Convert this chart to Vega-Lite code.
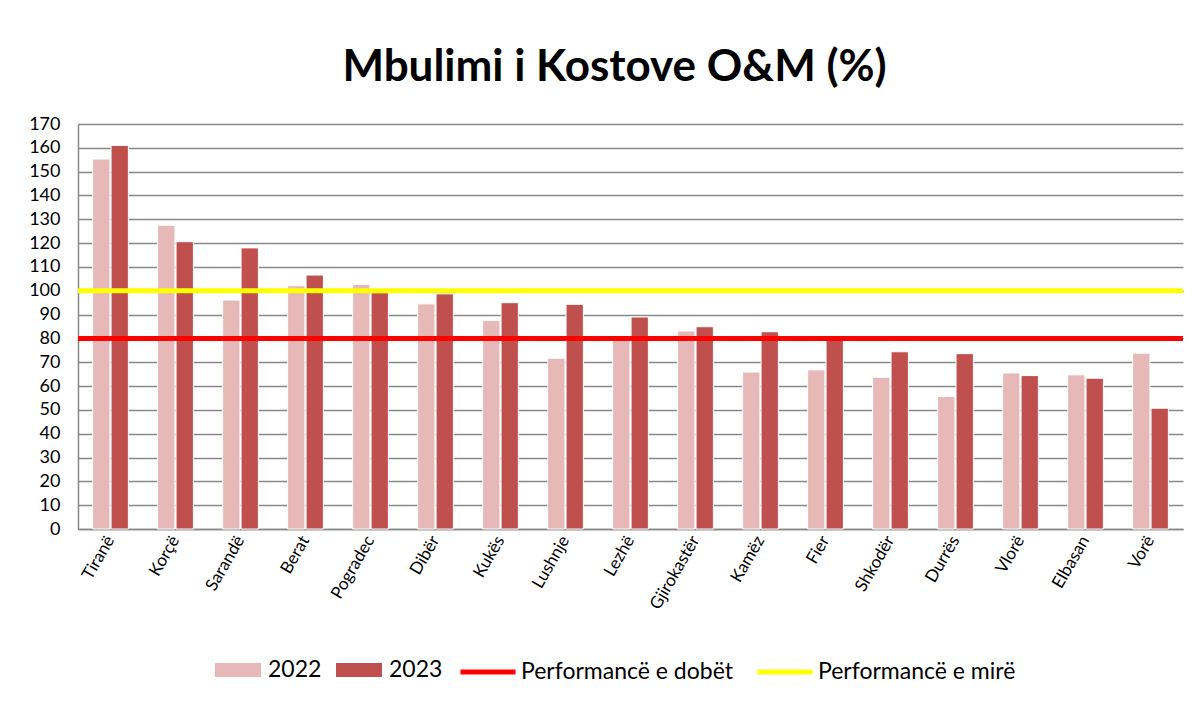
{
  "$schema": "https://vega.github.io/schema/vega-lite/v6.json",
  "width": 1105,
  "height": 405,
  "autosize": {"type": "none"},
  "padding": {"left": 78, "top": 124, "right": 15, "bottom": 184},
  "background": "white",
  "title": {"text": "Mbulimi i Kostove O&M (%)", "fontSize": 44, "font": "Lato", "fontWeight": "bold", "anchor": "middle", "frame": "group", "dx": -16, "offset": 25, "color": "black"},
  "config": {
    "view": {"stroke": null},
    "font": "Lato"
  },
  "datasets": {
    "bars": [
      {"city": "Tiranë", "year": "2022", "value": 155.3}, {"city": "Tiranë", "year": "2023", "value": 161},
      {"city": "Korçë", "year": "2022", "value": 127.5}, {"city": "Korçë", "year": "2023", "value": 120.6},
      {"city": "Sarandë", "year": "2022", "value": 96.1}, {"city": "Sarandë", "year": "2023", "value": 118},
      {"city": "Berat", "year": "2022", "value": 102.1}, {"city": "Berat", "year": "2023", "value": 106.6},
      {"city": "Pogradec", "year": "2022", "value": 102.7}, {"city": "Pogradec", "year": "2023", "value": 99.2},
      {"city": "Dibër", "year": "2022", "value": 94.5}, {"city": "Dibër", "year": "2023", "value": 98.7},
      {"city": "Kukës", "year": "2022", "value": 87.5}, {"city": "Kukës", "year": "2023", "value": 95},
      {"city": "Lushnje", "year": "2022", "value": 71.7}, {"city": "Lushnje", "year": "2023", "value": 94.3},
      {"city": "Lezhë", "year": "2022", "value": 80}, {"city": "Lezhë", "year": "2023", "value": 89},
      {"city": "Gjirokastër", "year": "2022", "value": 83.1}, {"city": "Gjirokastër", "year": "2023", "value": 84.9},
      {"city": "Kamëz", "year": "2022", "value": 65.9}, {"city": "Kamëz", "year": "2023", "value": 82.8},
      {"city": "Fier", "year": "2022", "value": 66.8}, {"city": "Fier", "year": "2023", "value": 80.5},
      {"city": "Shkodër", "year": "2022", "value": 63.7}, {"city": "Shkodër", "year": "2023", "value": 74.4},
      {"city": "Durrës", "year": "2022", "value": 55.6}, {"city": "Durrës", "year": "2023", "value": 73.6},
      {"city": "Vlorë", "year": "2022", "value": 65.5}, {"city": "Vlorë", "year": "2023", "value": 64.4},
      {"city": "Elbasan", "year": "2022", "value": 64.7}, {"city": "Elbasan", "year": "2023", "value": 63.3},
      {"city": "Vorë", "year": "2022", "value": 73.8}, {"city": "Vorë", "year": "2023", "value": 50.7}
    ],
    "lines": [
      {"label": "Performancë e dobët", "value": 80},
      {"label": "Performancë e mirë", "value": 100}
    ]
  },
  "layer": [
    {
      "data": {"name": "bars"},
      "mark": {"type": "bar", "stroke": "white", "strokeWidth": 1},
      "encoding": {
        "x": {"field": "city", "type": "nominal", "sort": null,
          "scale": {"paddingInner": 0.45, "paddingOuter": 0.225},
          "axis": {"title": null, "labelAngle": -60, "labelFontSize": 17, "labelColor": "black", "ticks": false, "domainColor": "#888888", "domainWidth": 1.5, "labelPadding": 8}},
        "xOffset": {"field": "year", "type": "nominal", "scale": {"paddingInner": 0.06}},
        "y": {"field": "value", "type": "quantitative", "scale": {"domain": [0, 170]},
          "axis": {"title": null, "values": [0,10,20,30,40,50,60,70,80,90,100,110,120,130,140,150,160,170], "labelOverlap": false, "grid": true, "gridColor": "#888888", "gridWidth": 1.5, "domainColor": "#888888", "domainWidth": 1.5, "ticks": false, "labelPadding": 18, "labelFontSize": 18, "labelColor": "black"}},
        "color": {"field": "year", "type": "nominal",
          "scale": {"domain": ["2022", "2023"], "range": ["#E6B9B8", "#C0504D"]},
          "legend": {"title": null, "orient": "none", "legendX": 137, "legendY": 523, "direction": "horizontal", "symbolType": "M-1,-0.3H1V0.3H-1Z", "symbolSize": 2116, "symbolStrokeWidth": 0, "labelFontSize": 23, "labelColor": "black", "labelOffset": 7, "columnPadding": 14, "labelLimit": 0}}
      }
    },
    {
      "data": {"name": "lines"},
      "mark": {"type": "rule", "strokeWidth": 5},
      "encoding": {
        "y": {"field": "value", "type": "quantitative", "scale": {"domain": [0, 170]},
          "axis": {"title": null, "values": [0,10,20,30,40,50,60,70,80,90,100,110,120,130,140,150,160,170], "labelOverlap": false, "grid": true, "gridColor": "#888888", "gridWidth": 1.5, "domainColor": "#888888", "domainWidth": 1.5, "ticks": false, "labelPadding": 18, "labelFontSize": 18, "labelColor": "black"}},
        "stroke": {"field": "label", "type": "nominal",
          "scale": {"domain": ["Performancë e dobët", "Performancë e mirë"], "range": ["#FF0000", "#FFFF00"]},
          "legend": {"title": null, "orient": "none", "legendX": 380, "legendY": 518, "direction": "horizontal", "symbolType": "stroke", "symbolSize": 3025, "symbolStrokeWidth": 5, "labelFontSize": 23, "labelColor": "black", "labelOffset": 3, "columnPadding": 14, "labelLimit": 0}}
      }
    }
  ]
}
